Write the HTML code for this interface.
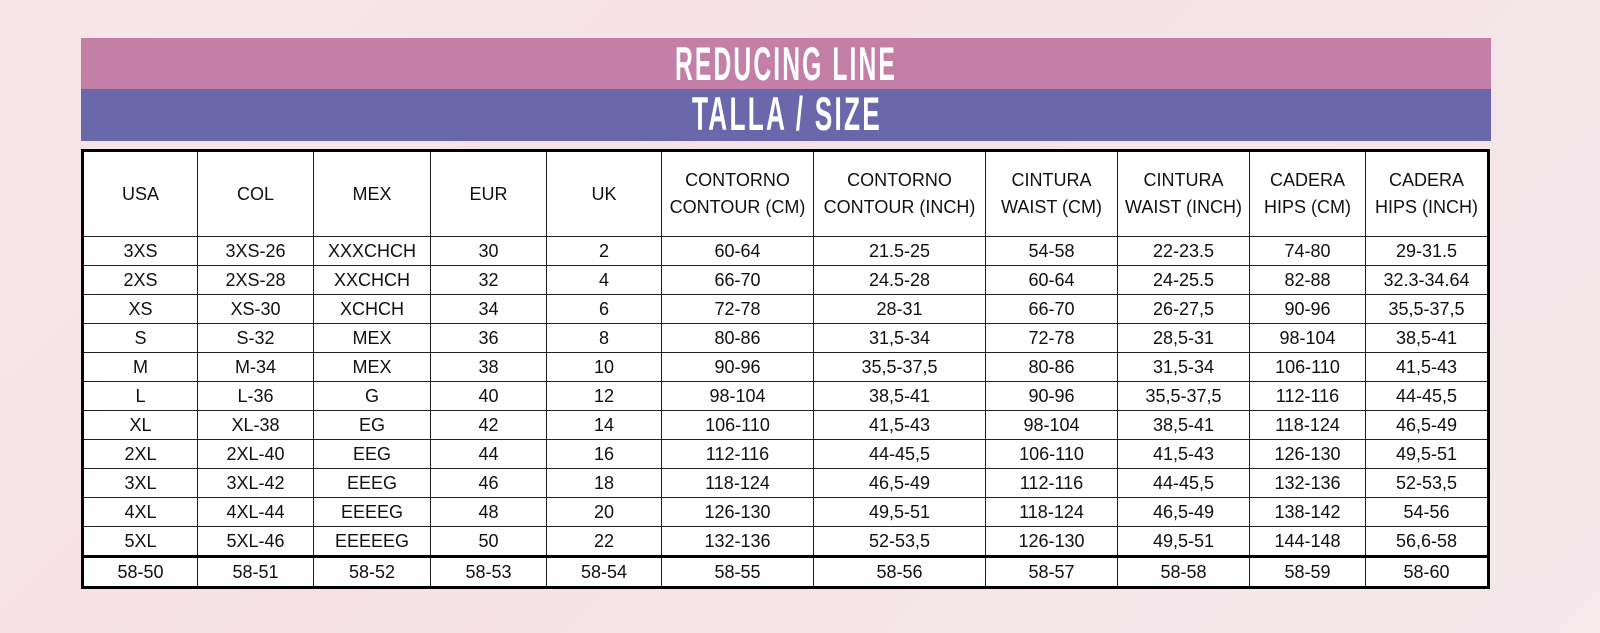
<!DOCTYPE html>
<html><head><meta charset="utf-8"><style>
html,body{margin:0;padding:0}
body{width:1600px;height:633px;background:linear-gradient(135deg,#f6e6ea,#f3e1e5 40%,#f5e9ec);position:relative;overflow:hidden;font-family:"Liberation Sans",sans-serif}
svg.t{position:absolute;left:0;top:0}
table{position:absolute;left:81px;top:149px;border-collapse:collapse;background:#fff;border:3px solid #000}
td{border:1.5px solid #222;text-align:center;font-size:18px;color:#111;padding:0;height:28px;line-height:18px;white-space:nowrap}
tr.h td{height:84px;line-height:27px}
tr.last td{border-top:3px solid #000}
</style></head><body>
<svg class="t" width="1600" height="633">
<rect x="81" y="38" width="1410" height="52" fill="#c47fa6"/>
<rect x="81" y="89" width="1410" height="52" fill="#6a68ab"/>
<text x="675" y="80" font-family="Liberation Sans,sans-serif" font-weight="bold" font-size="47" letter-spacing="4" fill="#fff" textLength="222" lengthAdjust="spacingAndGlyphs">REDUCING LINE</text>
<text x="692" y="130" font-family="Liberation Sans,sans-serif" font-weight="bold" font-size="47" letter-spacing="4" fill="#fff" textLength="190" lengthAdjust="spacingAndGlyphs">TALLA / SIZE</text>
</svg>
<table>
<colgroup><col style="width:115px"><col style="width:116px"><col style="width:117px"><col style="width:116px"><col style="width:115px"><col style="width:152px"><col style="width:172px"><col style="width:132px"><col style="width:132px"><col style="width:116px"><col style="width:123px"></colgroup>
<tr class="h"><td>USA</td><td>COL</td><td>MEX</td><td>EUR</td><td>UK</td><td>CONTORNO<br>CONTOUR (CM)</td><td>CONTORNO<br>CONTOUR (INCH)</td><td>CINTURA<br>WAIST (CM)</td><td>CINTURA<br>WAIST (INCH)</td><td>CADERA<br>HIPS (CM)</td><td>CADERA<br>HIPS (INCH)</td></tr>
<tr><td>3XS</td><td>3XS-26</td><td>XXXCHCH</td><td>30</td><td>2</td><td>60-64</td><td>21.5-25</td><td>54-58</td><td>22-23.5</td><td>74-80</td><td>29-31.5</td></tr>
<tr><td>2XS</td><td>2XS-28</td><td>XXCHCH</td><td>32</td><td>4</td><td>66-70</td><td>24.5-28</td><td>60-64</td><td>24-25.5</td><td>82-88</td><td>32.3-34.64</td></tr>
<tr><td>XS</td><td>XS-30</td><td>XCHCH</td><td>34</td><td>6</td><td>72-78</td><td>28-31</td><td>66-70</td><td>26-27,5</td><td>90-96</td><td>35,5-37,5</td></tr>
<tr><td>S</td><td>S-32</td><td>MEX</td><td>36</td><td>8</td><td>80-86</td><td>31,5-34</td><td>72-78</td><td>28,5-31</td><td>98-104</td><td>38,5-41</td></tr>
<tr><td>M</td><td>M-34</td><td>MEX</td><td>38</td><td>10</td><td>90-96</td><td>35,5-37,5</td><td>80-86</td><td>31,5-34</td><td>106-110</td><td>41,5-43</td></tr>
<tr><td>L</td><td>L-36</td><td>G</td><td>40</td><td>12</td><td>98-104</td><td>38,5-41</td><td>90-96</td><td>35,5-37,5</td><td>112-116</td><td>44-45,5</td></tr>
<tr><td>XL</td><td>XL-38</td><td>EG</td><td>42</td><td>14</td><td>106-110</td><td>41,5-43</td><td>98-104</td><td>38,5-41</td><td>118-124</td><td>46,5-49</td></tr>
<tr><td>2XL</td><td>2XL-40</td><td>EEG</td><td>44</td><td>16</td><td>112-116</td><td>44-45,5</td><td>106-110</td><td>41,5-43</td><td>126-130</td><td>49,5-51</td></tr>
<tr><td>3XL</td><td>3XL-42</td><td>EEEG</td><td>46</td><td>18</td><td>118-124</td><td>46,5-49</td><td>112-116</td><td>44-45,5</td><td>132-136</td><td>52-53,5</td></tr>
<tr><td>4XL</td><td>4XL-44</td><td>EEEEG</td><td>48</td><td>20</td><td>126-130</td><td>49,5-51</td><td>118-124</td><td>46,5-49</td><td>138-142</td><td>54-56</td></tr>
<tr><td>5XL</td><td>5XL-46</td><td>EEEEEG</td><td>50</td><td>22</td><td>132-136</td><td>52-53,5</td><td>126-130</td><td>49,5-51</td><td>144-148</td><td>56,6-58</td></tr>
<tr class="last"><td>58-50</td><td>58-51</td><td>58-52</td><td>58-53</td><td>58-54</td><td>58-55</td><td>58-56</td><td>58-57</td><td>58-58</td><td>58-59</td><td>58-60</td></tr>
</table>
</body></html>
